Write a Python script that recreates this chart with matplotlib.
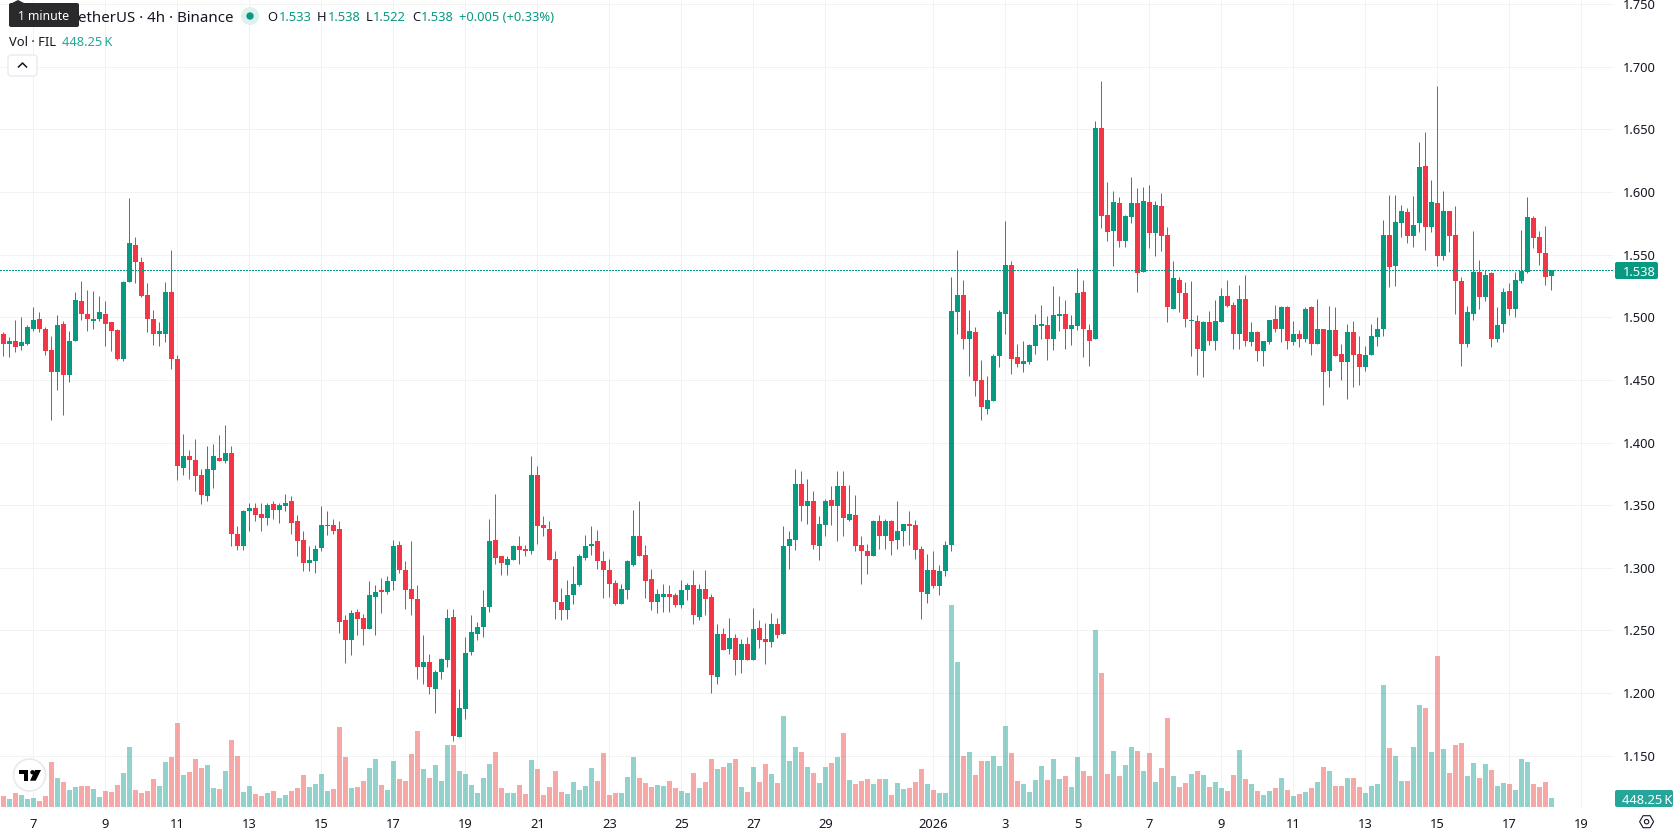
import matplotlib
matplotlib.use("Agg")
import matplotlib.pyplot as plt
from matplotlib.patches import Circle, FancyBboxPatch, Polygon

plt.rcParams["font.family"] = ["Noto Sans", "DejaVu Sans"]

# FIL/USDT 4h candles, oldest first
opens = [
    1.487,1.479,1.481,1.477,1.479,1.491,1.499,1.491,1.474,1.456,
    1.495,1.454,1.481,1.513,1.503,1.497,1.499,1.503,1.496,1.490,
    1.467,1.528,1.558,1.544,1.518,1.499,1.487,1.487,1.520,1.467,
    1.380,1.389,1.386,1.374,1.357,1.378,1.388,1.385,1.392,1.327,
    1.317,1.345,1.348,1.343,1.340,1.351,1.346,1.349,1.353,1.337,
    1.322,1.304,1.305,1.316,1.333,1.334,1.331,1.258,1.242,1.265,
    1.260,1.251,1.277,1.282,1.281,1.289,1.318,1.298,1.283,1.275,
    1.221,1.225,1.203,1.217,1.226,1.261,1.165,1.187,1.233,1.247,
    1.253,1.269,1.322,1.309,1.302,1.306,1.317,1.315,1.313,1.374,
    1.334,1.331,1.307,1.273,1.266,1.278,1.286,1.308,1.317,1.321,
    1.305,1.298,1.288,1.271,1.282,1.302,1.325,1.310,1.291,1.273,
    1.277,1.279,1.278,1.270,1.282,1.286,1.261,1.283,1.277,1.213,
    1.247,1.235,1.244,1.226,1.239,1.226,1.252,1.243,1.241,1.255,
    1.247,1.317,1.322,1.367,1.349,1.353,1.317,1.334,1.354,1.349,
    1.365,1.338,1.342,1.318,1.313,1.309,1.337,1.325,1.337,1.322,
    1.329,1.335,1.334,1.315,1.279,1.298,1.285,1.297,1.318,1.504,
    1.518,1.483,1.488,1.450,1.427,1.433,1.469,1.503,1.542,1.468,
    1.463,1.464,1.477,1.493,1.494,1.483,1.501,1.503,1.491,1.493,
    1.520,1.490,1.483,1.651,1.582,1.569,1.591,1.561,1.580,1.591,
    1.536,1.592,1.567,1.589,1.566,1.507,1.530,1.519,1.497,1.497,
    1.473,1.496,1.481,1.496,1.517,1.510,1.487,1.515,1.480,1.488,
    1.473,1.480,1.499,1.491,1.508,1.480,1.487,1.483,1.508,1.479,
    1.491,1.457,1.490,1.471,1.464,1.488,1.471,1.460,1.470,1.484,
    1.491,1.566,1.541,1.575,1.584,1.565,1.575,1.621,1.572,1.591,
    1.549,1.585,1.566,1.529,1.479,1.503,1.536,1.516,1.535,1.483,
    1.495,1.521,1.507,1.529,1.536,1.579,1.564,1.551,1.533,
]
highs = [
    1.488,1.484,1.498,1.500,1.494,1.508,1.504,1.492,1.485,1.502,
    1.497,1.489,1.520,1.529,1.522,1.521,1.517,1.513,1.496,1.491,
    1.529,1.595,1.564,1.548,1.527,1.506,1.496,1.528,1.554,1.470,
    1.407,1.394,1.403,1.379,1.397,1.399,1.406,1.414,1.397,1.333,
    1.346,1.352,1.352,1.352,1.352,1.353,1.352,1.359,1.357,1.342,
    1.329,1.317,1.318,1.349,1.345,1.339,1.337,1.262,1.266,1.267,
    1.263,1.289,1.286,1.292,1.293,1.322,1.321,1.305,1.321,1.286,
    1.246,1.231,1.218,1.228,1.267,1.267,1.203,1.245,1.262,1.257,
    1.282,1.339,1.359,1.309,1.309,1.318,1.325,1.318,1.389,1.381,
    1.341,1.337,1.313,1.284,1.290,1.301,1.311,1.326,1.333,1.330,
    1.313,1.307,1.290,1.287,1.306,1.346,1.353,1.318,1.299,1.283,
    1.287,1.286,1.280,1.290,1.288,1.298,1.287,1.298,1.279,1.255,
    1.252,1.260,1.247,1.243,1.245,1.268,1.258,1.256,1.264,1.260,
    1.333,1.329,1.379,1.377,1.371,1.361,1.341,1.355,1.365,1.377,
    1.377,1.366,1.358,1.325,1.319,1.338,1.342,1.339,1.338,1.353,
    1.335,1.345,1.338,1.317,1.311,1.313,1.302,1.321,1.532,1.554,
    1.530,1.506,1.492,1.466,1.453,1.471,1.506,1.577,1.545,1.479,
    1.481,1.479,1.503,1.510,1.501,1.525,1.517,1.514,1.502,1.539,
    1.530,1.495,1.657,1.689,1.608,1.601,1.596,1.582,1.612,1.603,
    1.604,1.606,1.593,1.599,1.572,1.545,1.532,1.528,1.529,1.502,
    1.497,1.505,1.514,1.523,1.530,1.512,1.526,1.534,1.496,1.489,
    1.481,1.498,1.510,1.509,1.509,1.497,1.490,1.508,1.509,1.515,
    1.491,1.509,1.508,1.479,1.495,1.497,1.485,1.477,1.495,1.500,
    1.578,1.598,1.598,1.590,1.587,1.597,1.640,1.648,1.610,1.685,
    1.601,1.585,1.589,1.532,1.509,1.569,1.546,1.538,1.536,1.508,
    1.523,1.527,1.536,1.570,1.596,1.581,1.569,1.573,1.538,
]
lows = [
    1.469,1.468,1.472,1.474,1.478,1.489,1.488,1.470,1.418,1.442,
    1.422,1.448,1.481,1.498,1.489,1.491,1.497,1.477,1.473,1.466,
    1.465,1.528,1.527,1.516,1.488,1.478,1.477,1.480,1.459,1.370,
    1.374,1.371,1.361,1.351,1.353,1.364,1.385,1.384,1.317,1.314,
    1.314,1.329,1.337,1.329,1.334,1.339,1.336,1.345,1.327,1.309,
    1.297,1.297,1.296,1.313,1.326,1.327,1.248,1.224,1.230,1.246,
    1.238,1.251,1.246,1.264,1.279,1.282,1.296,1.267,1.262,1.211,
    1.207,1.199,1.184,1.211,1.221,1.162,1.165,1.179,1.230,1.242,
    1.245,1.265,1.303,1.294,1.294,1.306,1.303,1.309,1.311,1.319,
    1.325,1.306,1.259,1.258,1.259,1.271,1.285,1.306,1.310,1.299,
    1.276,1.277,1.270,1.271,1.275,1.301,1.309,1.276,1.266,1.264,
    1.265,1.265,1.269,1.268,1.274,1.255,1.258,1.262,1.200,1.207,
    1.234,1.231,1.214,1.216,1.226,1.226,1.236,1.223,1.237,1.244,
    1.247,1.299,1.314,1.337,1.335,1.315,1.306,1.325,1.334,1.321,
    1.325,1.337,1.313,1.287,1.295,1.309,1.315,1.315,1.310,1.315,
    1.317,1.318,1.307,1.259,1.272,1.284,1.278,1.293,1.313,1.487,
    1.475,1.453,1.437,1.418,1.423,1.433,1.460,1.487,1.455,1.460,
    1.456,1.463,1.471,1.483,1.466,1.474,1.489,1.475,1.478,1.490,
    1.468,1.461,1.483,1.571,1.561,1.541,1.556,1.556,1.575,1.520,
    1.536,1.555,1.549,1.553,1.496,1.507,1.504,1.492,1.469,1.454,
    1.452,1.478,1.474,1.496,1.508,1.475,1.475,1.477,1.477,1.465,
    1.461,1.479,1.488,1.480,1.475,1.478,1.476,1.480,1.470,1.479,
    1.430,1.444,1.469,1.450,1.435,1.444,1.446,1.457,1.470,1.477,
    1.485,1.524,1.525,1.564,1.559,1.556,1.568,1.554,1.568,1.541,
    1.546,1.552,1.503,1.461,1.476,1.498,1.507,1.513,1.476,1.480,
    1.488,1.502,1.500,1.527,1.535,1.555,1.542,1.526,1.522,
]
closes = [
    1.479,1.481,1.476,1.480,1.492,1.498,1.491,1.473,1.456,1.494,
    1.454,1.481,1.514,1.503,1.499,1.499,1.504,1.495,1.489,1.467,
    1.528,1.559,1.544,1.517,1.499,1.487,1.489,1.520,1.467,1.381,
    1.389,1.386,1.373,1.358,1.379,1.389,1.385,1.392,1.327,1.317,
    1.345,1.348,1.342,1.340,1.350,1.346,1.350,1.352,1.336,1.321,
    1.304,1.306,1.315,1.334,1.334,1.329,1.257,1.242,1.264,1.259,
    1.251,1.278,1.281,1.281,1.289,1.317,1.298,1.282,1.275,1.221,
    1.225,1.205,1.217,1.227,1.260,1.166,1.188,1.232,1.249,1.253,
    1.269,1.321,1.308,1.304,1.307,1.317,1.314,1.313,1.374,1.333,
    1.332,1.306,1.273,1.266,1.278,1.287,1.309,1.317,1.319,1.305,
    1.298,1.287,1.271,1.283,1.305,1.325,1.309,1.289,1.273,1.279,
    1.279,1.277,1.270,1.282,1.286,1.262,1.283,1.275,1.214,1.247,
    1.234,1.244,1.226,1.239,1.226,1.251,1.242,1.241,1.255,1.246,
    1.317,1.323,1.367,1.349,1.353,1.318,1.335,1.353,1.349,1.365,
    1.340,1.343,1.317,1.313,1.309,1.337,1.325,1.337,1.321,1.329,
    1.335,1.333,1.314,1.281,1.298,1.285,1.297,1.318,1.505,1.518,
    1.483,1.489,1.449,1.428,1.434,1.469,1.504,1.542,1.467,1.463,
    1.465,1.478,1.494,1.495,1.483,1.502,1.503,1.491,1.494,1.519,
    1.491,1.481,1.651,1.581,1.568,1.592,1.561,1.581,1.591,1.535,
    1.593,1.567,1.590,1.565,1.508,1.531,1.519,1.499,1.498,1.475,
    1.496,1.481,1.497,1.517,1.509,1.487,1.515,1.481,1.488,1.473,
    1.481,1.498,1.491,1.508,1.481,1.487,1.483,1.507,1.479,1.491,
    1.456,1.490,1.469,1.464,1.488,1.470,1.460,1.470,1.485,1.491,
    1.566,1.540,1.576,1.585,1.565,1.574,1.620,1.572,1.592,1.549,
    1.585,1.565,1.529,1.479,1.504,1.536,1.516,1.534,1.483,1.494,
    1.520,1.507,1.530,1.537,1.580,1.563,1.551,1.532,1.538,
]
# volume in thousands of FIL
volumes = [
    569,414,724,620,414,465,310,569,2327,1499,
    1293,879,1034,1086,1086,931,517,827,776,1137,
    1758,3102,879,724,827,1448,1086,2327,2585,4343,
    1654,1810,2482,2016,2171,982,931,1861,3464,2637,
    776,1086,672,569,724,827,465,620,827,982,
    1654,1034,1189,1706,827,931,4136,2585,982,1034,
    1344,2016,2482,1137,879,2378,1448,1344,2740,3929,
    1965,1499,2171,1344,3205,3205,1861,1706,1137,724,
    1499,2223,2844,982,724,724,1137,672,2430,1965,
    620,1034,1861,776,672,1293,879,1086,2016,1344,
    2792,620,724,724,1551,2585,1499,1241,1034,1137,
    1086,1344,982,827,724,1758,982,1293,2482,1965,
    2068,2275,2482,1034,776,2068,1293,2223,1706,1241,
    4705,2378,3102,2844,2068,1758,1241,2068,2275,2585,
    3826,1396,1189,1344,1448,1189,1448,1448,620,1241,
    931,982,1293,1965,1189,879,724,724,10443,7497,
    2637,2844,1654,2378,2378,2637,2120,4188,2792,1344,
    1189,776,1396,2120,1396,2482,1448,1603,1034,2585,
    1861,1603,9151,6928,1706,2895,1603,2171,3102,2895,
    1861,2792,1293,2016,4601,1603,1034,1241,1706,1861,
    1654,1034,1293,982,827,1654,2947,1448,1189,827,
    620,827,982,1499,879,569,672,776,982,1293,
    2068,1861,1086,1086,1499,1499,1034,724,1086,1189,
    6307,3050,2637,1344,1344,3102,5273,5118,2844,7807,
    2999,1758,3205,3309,1603,2275,1499,2223,1913,1086,
    1241,1189,879,2482,2327,1189,1034,1293,448.25,
]
date_ticks = [5,17,29,41,53,65,77,89,101,113,125,137,155,167,179,191,203,215,227,239,251,263]
date_labels = ["7","9","11","13","15","17","19","21","23","25","27","29","2026",
               "3","5","7","9","11","13","15","17","19"]
price_ticks = [1.15,1.20,1.25,1.30,1.35,1.40,1.45,1.50,1.55,1.60,1.65,1.70,1.75]
last_price = 1.538
last_volume = 448.25

UP = "#089981"
DOWN = "#F23645"
VOL_UP = "#26A69A"
VOL_DOWN = "#EF5350"
GRID = "#F2F2F3"
TEXT = "#131722"
W, H = 1678, 835
PANE_W, PANE_H = 1613, 808
px = 0.72  # one pixel in points at dpi 100

fig = plt.figure(figsize=(W / 100, H / 100), dpi=100, facecolor="white")
ax = fig.add_axes([0, 1 - PANE_H / H, PANE_W / W, PANE_H / H])
ax.set_xlim(-0.567, 268.27)
ax.set_ylim(1.1081, 1.7534)

xs = list(range(len(closes)))
colors = [UP if c >= o else DOWN for o, c in zip(opens, closes)]
vol_colors = [VOL_UP if c >= o else VOL_DOWN for o, c in zip(opens, closes)]

# volume sits in its own scale along the bottom of the pane
ax_vol = ax.twinx()
ax_vol.set_ylim(-67, 41706)
ax_vol.axis("off")
ax_vol.bar(xs, volumes, width=5 / 6, color=vol_colors, alpha=0.5, linewidth=0)

ax_price = ax.twinx()
ax_price.set_ylim(ax.get_ylim())
ax_price.axis("off")
last_line = ax_price.axhline(last_price, color=UP, linewidth=px * 1.2, linestyle=(0, (0.9, 1.6)))
last_line.set_snap(True)
last_line.set_antialiased(False)
wicks = ax_price.vlines(xs, lows, highs, colors=colors, linewidth=px)
wicks.set_snap(True)
ax_price.bar(xs, [max(abs(c - o), 0.0008) for o, c in zip(opens, closes)],
             bottom=[min(o, c) for o, c in zip(opens, closes)],
             width=5 / 6, color=colors, linewidth=0)

# grid and both scales live on the bottom axes; twinx resets the tick side
for s in ax.spines.values():
    s.set_visible(False)
ax.set_xticks(date_ticks, date_labels)
ax.set_yticks(price_ticks, [f"{p:.3f}" for p in price_ticks])
ax.yaxis.tick_right()
ax.tick_params(axis="both", length=0, labelsize=9.3, labelcolor=TEXT)
ax.tick_params(axis="x", pad=7)
ax.tick_params(axis="y", pad=7)
ax.xaxis.get_ticklabels()[date_labels.index("2026")].set_fontweight("bold")
ax.grid(True, color=GRID, linewidth=px)
ax.set_axisbelow(True)

# overlay in pixel coordinates for the legend and badges
ov = fig.add_axes([0, 0, 1, 1], zorder=5)
ov.set_xlim(0, W)
ov.set_ylim(H, 0)
ov.axis("off")


def label(x, y, s, color=TEXT, size=9.3, ha="left", **kw):
    ov.text(x, y, s, color=color, fontsize=size, ha=ha, va="center_baseline", **kw)


def badge(x0, y0, x1, y1, color):
    ov.add_patch(FancyBboxPatch((x0 + 2, y0 + 2), x1 - x0 - 4, y1 - y0 - 4,
                                boxstyle="round,pad=2,rounding_size=2", fc=color, ec="none"))


# legend rows
label(78, 16, "etherUS · 4h · Binance", size=10.8)
ov.add_patch(Circle((250, 16), 9, fc="#DDF1EE", ec="none"))
ov.add_patch(Circle((250, 16), 3.7, fc=UP, ec="none"))
for x, s, c in [(267, "O", TEXT), (279, "1.533", UP), (317, "H", TEXT), (327.5, "1.538", UP),
                (365.7, "L", TEXT), (373, "1.522", UP), (412, "C", TEXT), (421, "1.538", UP),
                (459, "+0.005 (+0.33%)", UP)]:
    label(x, 16, s, c)
label(9, 41, "Vol · FIL", size=9.3)
label(62.5, 41, "448.25\u2009K", VOL_UP, size=9.3)

# collapse button
ov.add_patch(FancyBboxPatch((10, 57), 25, 17, boxstyle="round,pad=2,rounding_size=3",
                            fc="white", ec="#E0E3EB", lw=px))
ov.plot([18.5, 22.5, 26.5], [67, 63, 67], color=TEXT, lw=1.1)

# tooltip over the symbol name
badge(9, 3, 79, 27, "#2A2A2D")
ov.add_patch(Polygon([(12, 3), (18, 0), (24, 3)], fc="#2A2A2D", ec="none"))
label(18, 15.5, "1 minute", "white", size=8.8)

# axis badges
badge(1615, 262, 1658, 279, UP)
label(1623, 270.5, f"{last_price:.3f}", "white", size=9.3)
badge(1615, 790, 1673, 807, VOL_UP)
label(1622, 798.5, f"{last_volume:.2f}\u2009K", "white", size=9.3)

# watermark
ov.add_patch(Circle((29.5, 775), 16, fc="white", ec="#E8E8EA", lw=1.1))
ov.add_patch(Polygon([(18.6, 770), (27.9, 770), (27.9, 780.7), (24.3, 780.7), (24.3, 774), (18.6, 774)],
                     fc="black", ec="none"))
ov.add_patch(Circle((32.5, 772.3), 2.2, fc="black", ec="none"))
ov.add_patch(Polygon([(35, 770), (41, 770), (35.7, 780.7), (30, 780.7)], fc="black", ec="none"))

# settings icon
hx, hy = 1646.6, 821.7
ov.add_patch(Polygon([(hx - 7, hy), (hx - 3.5, hy - 6), (hx + 3.5, hy - 6), (hx + 7, hy),
                      (hx + 3.5, hy + 6), (hx - 3.5, hy + 6)], fc="white", ec=TEXT, lw=0.8))
ov.add_patch(Circle((hx, hy), 2.2, fc="white", ec=TEXT, lw=0.8))

fig.savefig("out.png", dpi=100)
